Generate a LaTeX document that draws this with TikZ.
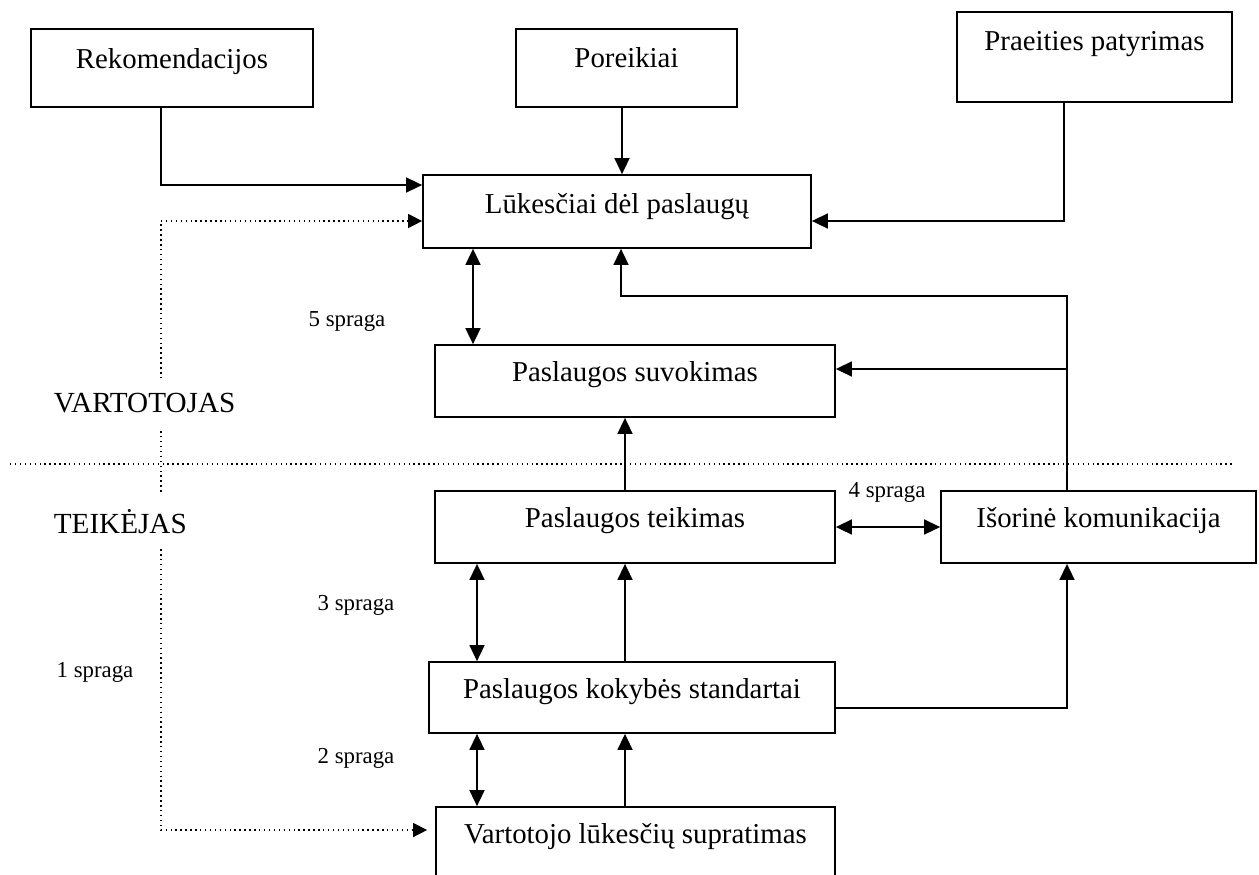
\documentclass[tikz,border=0pt]{standalone}
\usepackage{fontspec}
\setmainfont{Liberation Serif}
\usepackage{tikz}
\usetikzlibrary{arrows.meta, positioning, calc}

\begin{document}
\begin{tikzpicture}[
    box/.style={rectangle, draw, line width=1pt, fill=white, inner xsep=0.2cm, inner ysep=0pt, text height=0.72cm, text depth=0.72cm, font=\fontsize{16.4}{19}\selectfont},
    lbl/.style={font=\fontsize{13}{15}\selectfont, inner sep=1pt},
    side/.style={font=\fontsize{16.6}{19}\selectfont, fill=white, anchor=west, inner xsep=2pt, inner ysep=0.3cm},
    arr/.style={line width=0.9pt, -{Triangle[length=0.32cm, width=0.3cm]}},
    darr/.style={line width=0.9pt, {Triangle[length=0.32cm, width=0.3cm]}-{Triangle[length=0.32cm, width=0.3cm]}},
    gaparr/.style={line width=0.8pt, dotted, {Triangle[length=0.28cm, width=0.28cm]}-{Triangle[length=0.28cm, width=0.28cm]}}
]
\useasboundingbox (0,0) rectangle (25.18,-17.48);
\clip (0,0) rectangle (25.18,-17.48);

% -- TOP ROW: sources --
\node[box, minimum width=5.64cm, text height=0.78cm, text depth=0.78cm] (rek) at (3.44,-1.36) {Rekomendacijos};
\node[box, minimum width=4.42cm, text height=0.76cm, text depth=0.80cm] (por) at (12.53,-1.36) {Poreikiai};
\node[box, minimum width=5.5cm, text height=0.76cm, text depth=1.04cm] (pra) at (21.89,-1.14) {Praeities patyrimas};

% -- VARTOTOJAS side --
\node[box, minimum width=7.76cm, text height=0.76cm, text depth=0.70cm] (luk) at (12.34,-4.23) {Lūkesčiai dėl paslaugų};
\node[box, minimum width=8.0cm] (suv) at (12.70,-7.62) {Paslaugos suvokimas};

% -- TEIKĖJAS side --
\node[box, minimum width=8.0cm] (tei) at (12.70,-10.54) {Paslaugos teikimas};
\node[box, minimum width=6.3cm] (isr) at (21.97,-10.54) {Išorinė komunikacija};
\node[box, minimum width=8.12cm, text depth=0.70cm] (kok) at (12.64,-13.95) {Paslaugos kokybės standartai};
\node[box, minimum width=7.98cm, text depth=0.94cm] (var) at (12.71,-16.97) {Vartotojo lūkesčių supratimas};

% divider between the two sides
\coordinate (divL) at (0.2,-9.28);
\coordinate (divR) at (24.66,-9.28);
\draw[line width=0.8pt, dotted] (divL) -- (divR);

% -- gap 1 (dotted) --
\coordinate (gap1) at (3.22,-16.6);
\draw[gaparr] ([yshift=-0.19cm]luk.west) -| (gap1) -- ([xshift=-0.16cm]var.west |- gap1);

\node[side] (vart) at (1.0,-8.06) {VARTOTOJAS};
\node[side] (teik) at (1.0,-10.44) {TEIKĖJAS};

% inputs to expectations
\draw[arr] ([xshift=-0.22cm]rek.south) |- ([yshift=0.53cm]luk.west);
\draw[arr] ([xshift=-0.09cm]por.south) -- ([xshift=-0.09cm]por.south |- luk.north);
\draw[arr] ([xshift=-0.61cm]pra.south) |- ([yshift=-0.19cm]luk.east);

% external communication
\coordinate (k1) at (21.34,-5.92);
\draw[arr] ([xshift=-0.63cm]isr.north) -- (k1) -| ([xshift=0.08cm]luk.south);
\draw[arr] ([yshift=0.24cm]suv.east -| k1) -- ([yshift=0.24cm]suv.east);
\draw[arr] ([yshift=-0.21cm]kok.east) -| ([xshift=-0.63cm]isr.south);

% flow upwards
\draw[arr] ([xshift=-0.2cm]tei.north) -- ([xshift=-0.2cm]suv.south);
\draw[arr] ([xshift=-0.2cm]tei.south |- kok.north) -- ([xshift=-0.2cm]tei.south);
\draw[arr] ([xshift=-0.2cm]tei.south |- var.north) -- ([xshift=-0.2cm]tei.south |- kok.south);

% gaps
\draw[darr] ([xshift=-2.88cm]luk.south) -- ([xshift=-2.88cm]luk.south |- suv.north);
\draw[darr] (tei.east) -- (isr.west);
\draw[darr] ([xshift=-3.16cm]tei.south) -- ([xshift=-3.16cm]tei.south |- kok.north);
\draw[darr] ([xshift=-3.16cm]tei.south |- var.north) -- ([xshift=-3.16cm]tei.south |- kok.south);

\node[lbl] (s5) at (6.94,-6.42) {5 spraga};
\node[lbl] (s4) at (17.74,-9.84) {4 spraga};
\node[lbl] (s3) at (7.12,-12.1) {3 spraga};
\node[lbl] (s2) at (7.12,-15.16) {2 spraga};
\node[lbl] (s1) at (1.9,-13.44) {1 spraga};

\end{tikzpicture}
\end{document}
